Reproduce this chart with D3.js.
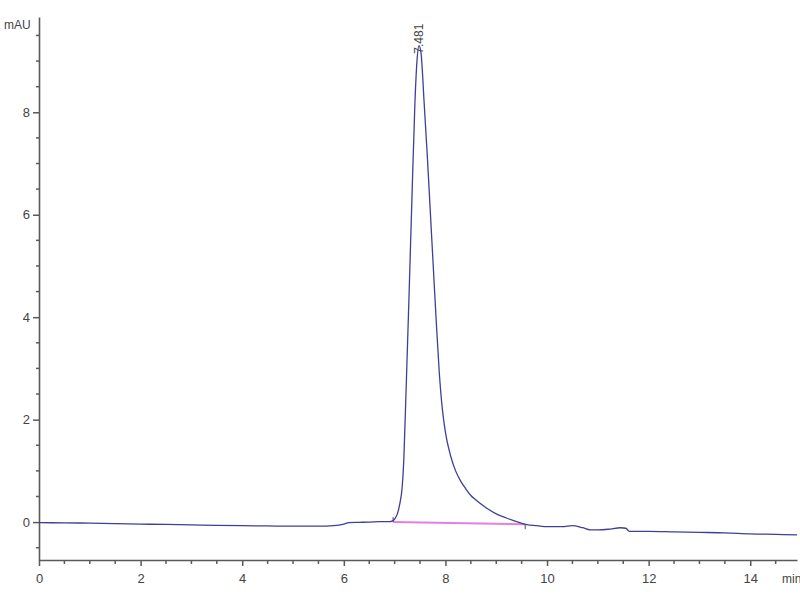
<!DOCTYPE html>
<html>
<head>
<meta charset="utf-8">
<script src="https://cdn.jsdelivr.net/npm/d3@7/dist/d3.min.js"></script>
<style>
  html, body { margin: 0; padding: 0; background: #fff; }
  svg { display: block; }
  text { font-family: "Liberation Sans Narrow", "Arial Narrow", "Liberation Sans", Arial, sans-serif; fill: #444; }
</style>
</head>
<body>
<svg id="chart" width="800" height="600"></svg>
<script>
// ---- data ----
const times = [0, 0.5, 1, 1.5, 2, 2.5, 3, 3.5, 4, 4.5, 5, 5.5, 5.8, 6.0, 6.1, 6.3, 6.5, 6.7, 6.9, 6.95,
  7.0, 7.05, 7.1, 7.15, 7.18, 7.22, 7.28, 7.34, 7.40, 7.44, 7.48, 7.52, 7.58, 7.64, 7.70, 7.76, 7.82, 7.88, 7.94,
  8.0, 8.1, 8.2, 8.3, 8.4, 8.5, 8.6, 8.8, 9.0, 9.2, 9.4, 9.6, 9.8, 10.0, 10.3, 10.5, 10.7, 10.85, 11.0, 11.2,
  11.45, 11.55, 11.62, 12.0, 12.5, 13, 13.5, 14, 14.5, 14.92];
const signal = [-0.01, -0.015, -0.02, -0.03, -0.04, -0.045, -0.055, -0.065, -0.07, -0.075, -0.08, -0.08, -0.07, -0.04, -0.01, -0.005, 0.0, 0.01, 0.01, 0.02,
  0.06, 0.15, 0.35, 0.7, 1.2, 2.4, 4.3, 6.3, 8.2, 9.0, 9.3, 9.15, 8.2, 7.2, 6.1, 5.0, 3.9, 2.9, 2.2,
  1.75, 1.3, 1.0, 0.8, 0.65, 0.52, 0.43, 0.28, 0.16, 0.08, 0.01, -0.05, -0.07, -0.09, -0.09, -0.07, -0.11, -0.15, -0.15, -0.14,
  -0.11, -0.12, -0.18, -0.18, -0.19, -0.2, -0.21, -0.23, -0.24, -0.25];
const baselineTimes = [6.97, 9.57];
const baselineValues = [0.0, -0.04];
const peakTime = 7.481;
const peakValue = 9.3;
const peakLabel = "7.481";
const xMajorTicks = [0, 2, 4, 6, 8, 10, 12, 14];
const yMajorTicks = [0, 2, 4, 6, 8];
const xUnit = "min";
const yUnit = "mAU";

// ---- chart ----
const svg = d3.select("#chart");
const x = d3.scaleLinear().domain([0, 14.92]).range([39, 797]);
const y = d3.scaleLinear().domain([-0.74, 9.86]).range([560, 17]);

const axisColor = "#5a5a5a";

// minor ticks
const xMinor = d3.range(1, 30).map(i => i * 0.5).filter(v => v < 14.9 && !xMajorTicks.includes(v));
const yMinor = d3.range(-1, 20).map(i => i * 0.5).filter(v => !yMajorTicks.includes(v));

const xAxis = svg.append("g").attr("transform", `translate(0,${y.range()[0]})`);
xAxis.call(d3.axisBottom(x).tickValues(xMajorTicks).tickSize(6).tickSizeOuter(0).tickFormat(d3.format("d")));

const yAxis = svg.append("g").attr("transform", `translate(${x.range()[0]},0)`);
yAxis.call(d3.axisLeft(y).tickValues(yMajorTicks).tickSize(6).tickSizeOuter(0).tickFormat(d3.format("d")));

[xAxis, yAxis].forEach(g => {
  g.select(".domain").attr("stroke", axisColor).attr("stroke-width", 1.6);
  g.selectAll(".tick line").attr("stroke", axisColor).attr("stroke-width", 1.5);
  g.selectAll(".tick text").attr("fill", "#444").style("font-size", "13px")
    .style("font-family", '"Liberation Sans Narrow", "Arial Narrow", "Liberation Sans", Arial, sans-serif');
});
xAxis.selectAll(".tick text").attr("dy", "1.05em");
yAxis.selectAll(".tick text").attr("x", -9);

// minor ticks
svg.append("g").attr("class", "xminor").selectAll("line").data(xMinor).join("line")
  .attr("x1", d => x(d)).attr("x2", d => x(d))
  .attr("y1", y.range()[0]).attr("y2", y.range()[0] + 4)
  .attr("stroke", axisColor).attr("stroke-width", 1.5);
svg.append("g").attr("class", "yminor").selectAll("line").data(yMinor).join("line")
  .attr("x1", x.range()[0] - 3).attr("x2", x.range()[0])
  .attr("y1", d => y(d)).attr("y2", d => y(d))
  .attr("stroke", axisColor).attr("stroke-width", 1.5);

// unit labels
svg.append("text").attr("x", 4).attr("y", 29).style("font-size", "12px").text(yUnit);
svg.append("text").attr("x", 782).attr("y", 583).style("font-size", "12px").text(xUnit);

// baseline (integration)
const bl = baselineTimes.map((t, i) => [t, baselineValues[i]]);
svg.append("path").datum(bl)
  .attr("d", d3.line().x(d => x(d[0])).y(d => y(d[1])))
  .attr("stroke", "#e37fe3").attr("stroke-width", 2).attr("fill", "none");

// signal trace
const pts = times.map((t, i) => [t, signal[i]]);
svg.append("path").datum(pts)
  .attr("d", d3.line().x(d => x(d[0])).y(d => y(d[1])).curve(d3.curveMonotoneX))
  .attr("stroke", "#3f3f98").attr("stroke-width", 1.3).attr("fill", "none");

// integration markers
svg.append("line")
  .attr("x1", x(baselineTimes[0])).attr("x2", x(baselineTimes[0]))
  .attr("y1", y(baselineValues[0])).attr("y2", y(baselineValues[0]) - 5)
  .attr("stroke", "#3f3f98").attr("stroke-width", 1);
svg.append("line")
  .attr("x1", x(baselineTimes[1])).attr("x2", x(baselineTimes[1]))
  .attr("y1", y(baselineValues[1])).attr("y2", y(baselineValues[1]) + 5)
  .attr("stroke", "#555").attr("stroke-width", 1);

// peak label
svg.append("text")
  .attr("transform", `translate(${x(peakTime)},${y(peakValue) + 8}) rotate(-90)`)
  .attr("dy", "0.35em")
  .style("font-size", "12px").attr("fill", "#333")
  .text(peakLabel);
</script>
</body>
</html>
